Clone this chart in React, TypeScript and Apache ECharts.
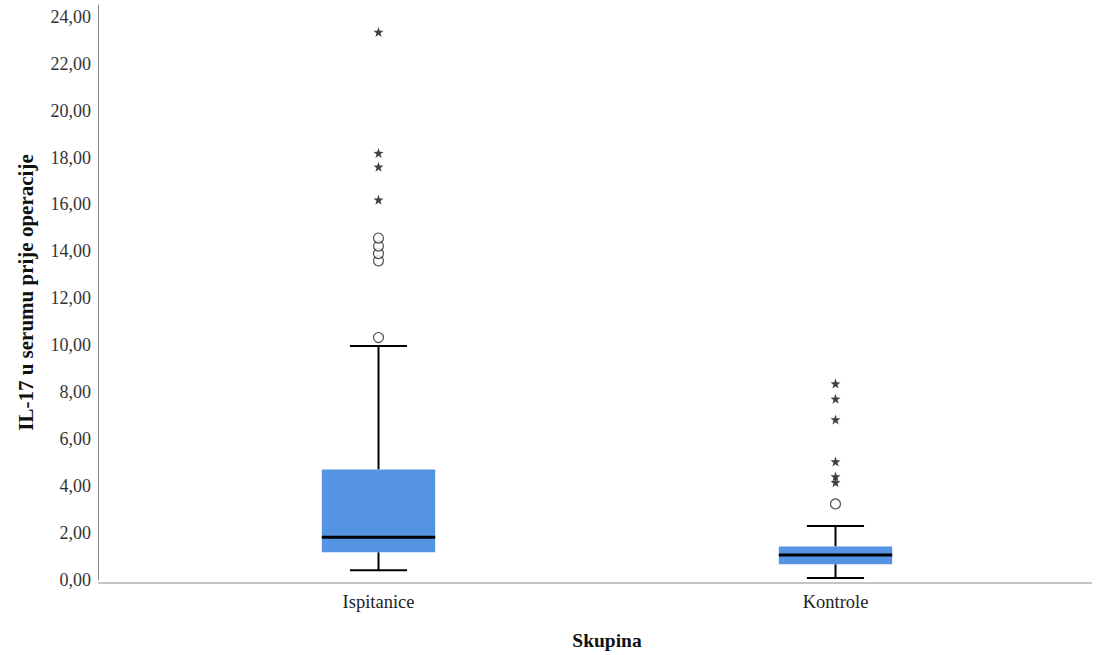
import React, { useEffect, useRef } from "react";
import * as echarts from "echarts";

const categories = ["Ispitanice", "Kontrole"];
// [low whisker, Q1, median, Q3, high whisker]
const boxStats = [
  [0.42, 1.18, 1.82, 4.71, 9.97],
  [0.08, 0.67, 1.07, 1.43, 2.3],
];
const outliersIspitanice = [10.33, 13.6, 13.91, 14.23, 14.57];
const outliersKontrole = [3.24];
const extremesIspitanice = [23.35, 18.19, 17.61, 16.2];
const extremesKontrole = [8.37, 7.72, 6.84, 5.05, 4.41, 4.16];
const yTicks = [0, 2, 4, 6, 8, 10, 12, 14, 16, 18, 20, 22, 24];

const STAR =
  "path://M0,-10 L2.35,-3.24 9.51,-3.09 3.8,1.24 5.88,8.09 0,4 -5.88,8.09 -3.8,1.24 -9.51,-3.09 -2.35,-3.24Z";

const SERIF = "Liberation Serif";

export default function App() {
  const ref = useRef<HTMLDivElement>(null);
  useEffect(() => {
    document.body.style.margin = "0";
    const chart = echarts.init(ref.current!, null, { renderer: "svg" });
    const boxData = boxStats.map((s, i) => [i, ...s]);
    const circles = [
      ...outliersIspitanice.map((v) => [0, v]),
      ...outliersKontrole.map((v) => [1, v]),
    ];
    const stars = [
      ...extremesIspitanice.map((v) => [0, v]),
      ...extremesKontrole.map((v) => [1, v]),
    ];
    chart.setOption({
      animation: false,
      backgroundColor: "#fff",
      textStyle: { fontFamily: SERIF },
      grid: { left: 150, right: 42, top: 5, bottom: 72 },
      xAxis: {
        type: "category",
        data: categories,
        name: "Skupina",
        nameLocation: "middle",
        nameGap: 50,
        nameTextStyle: { fontFamily: SERIF, fontWeight: "bold", fontSize: 19.5, color: "#111" },
        axisLine: { show: false },
        axisTick: { show: false },
        axisLabel: { fontFamily: SERIF, fontSize: 18.5, color: "#222", margin: 12 },
      },
      yAxis: {
        type: "value",
        min: 0,
        max: 24.5,
        interval: 2,
        offset: 52,
        name: "IL-17 u serumu prije operacije",
        nameLocation: "middle",
        nameGap: 62,
        nameTextStyle: { fontFamily: SERIF, fontWeight: "bold", fontSize: 21, color: "#111" },
        axisLine: { show: true, lineStyle: { color: "#8a8a8a", width: 1 } },
        axisTick: { show: false },
        splitLine: { show: false },
        axisLabel: {
          fontFamily: SERIF,
          fontSize: 18,
          color: "#333",
          margin: 7,
          formatter: (v: number) =>
            yTicks.includes(v) ? v.toFixed(2).replace(".", ",") : "",
        },
      },
      graphic: [
        {
          type: "line",
          shape: { x1: 98, y1: 583, x2: 1092, y2: 583 },
          style: { stroke: "#8a8a8a", lineWidth: 1 },
          z: 1,
        },
      ],
      series: [
        {
          type: "custom",
          data: boxData,
          encode: { x: 0, y: [1, 2, 3, 4, 5] },
          renderItem: (params: any, api: any) => {
            const idx = api.value(0);
            const low = api.coord([idx, api.value(1)]);
            const q1 = api.coord([idx, api.value(2)]);
            const med = api.coord([idx, api.value(3)]);
            const q3 = api.coord([idx, api.value(4)]);
            const high = api.coord([idx, api.value(5)]);
            const band = api.size([1, 0])[0];
            const bw = band * 0.248;
            const cw = band * 0.125;
            const cx = q1[0];
            const black = { stroke: "#000", lineWidth: 2 };
            return {
              type: "group",
              children: [
                { type: "line", shape: { x1: cx, y1: q3[1], x2: cx, y2: high[1] }, style: black },
                { type: "line", shape: { x1: cx, y1: q1[1], x2: cx, y2: low[1] }, style: black },
                { type: "line", shape: { x1: cx - cw / 2, y1: high[1], x2: cx + cw / 2, y2: high[1] }, style: black },
                { type: "line", shape: { x1: cx - cw / 2, y1: low[1], x2: cx + cw / 2, y2: low[1] }, style: black },
                {
                  type: "rect",
                  shape: { x: cx - bw / 2, y: q3[1], width: bw, height: q1[1] - q3[1] },
                  style: { fill: "#5594E3" },
                },
                {
                  type: "line",
                  shape: { x1: cx - bw / 2, y1: med[1], x2: cx + bw / 2, y2: med[1] },
                  style: { stroke: "#000", lineWidth: 3 },
                },
              ],
            };
          },
          z: 2,
        },
        {
          type: "scatter",
          data: circles,
          symbol: "circle",
          symbolSize: 10,
          itemStyle: { color: "#ffffff", borderColor: "#222", borderWidth: 1.2 },
          z: 3,
        },
        {
          type: "scatter",
          data: stars,
          symbol: STAR,
          symbolSize: 10,
          itemStyle: { color: "#111" },
          z: 3,
        },
      ],
    });
    return () => chart.dispose();
  }, []);
  return <div ref={ref} style={{ width: 1106, height: 655 }} />;
}
